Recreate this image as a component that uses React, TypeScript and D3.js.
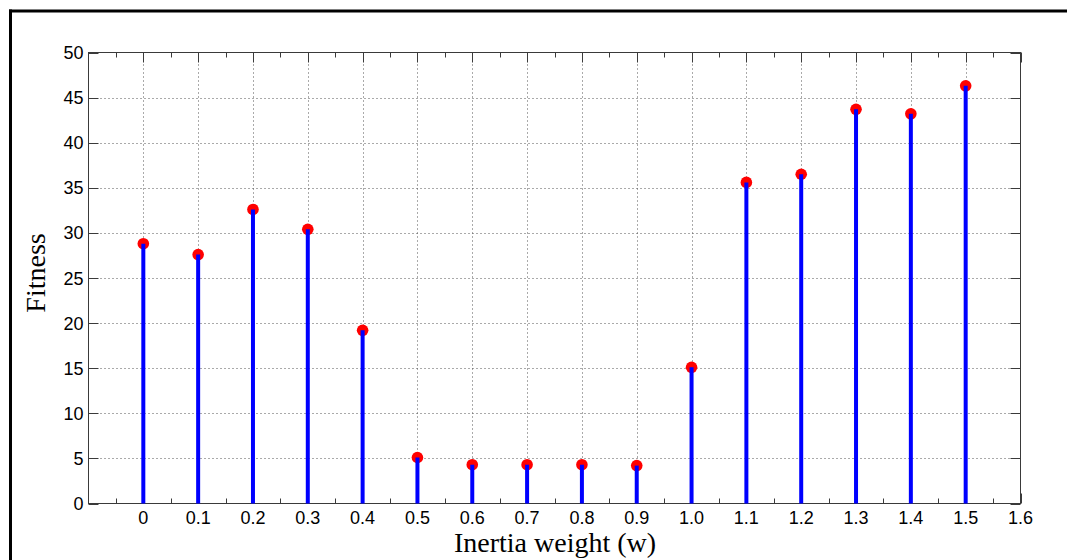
import React from "react";
import * as d3 from "d3";

const weights = [0, 0.1, 0.2, 0.3, 0.4, 0.5, 0.6, 0.7, 0.8, 0.9, 1.0, 1.1, 1.2, 1.3, 1.4, 1.5];
const fitness = [28.8, 27.6, 32.6, 30.4, 19.2, 5.1, 4.3, 4.3, 4.3, 4.2, 15.1, 35.6, 36.5, 43.7, 43.2, 46.3];
const xTickValues = [0, 0.1, 0.2, 0.3, 0.4, 0.5, 0.6, 0.7, 0.8, 0.9, 1.0, 1.1, 1.2, 1.3, 1.4, 1.5, 1.6];
const xTickLabels = ["0", "0.1", "0.2", "0.3", "0.4", "0.5", "0.6", "0.7", "0.8", "0.9", "1.0", "1.1", "1.2", "1.3", "1.4", "1.5", "1.6"];
const xMinorTicks = [-0.05, 0.05, 0.15, 0.25, 0.35, 0.45, 0.55, 0.65, 0.75, 0.85, 0.95, 1.05, 1.15, 1.25, 1.35, 1.45, 1.55];
const yTickValues = [0, 5, 10, 15, 20, 25, 30, 35, 40, 45, 50];

const W = 1067;
const H = 560;
const L = 88.5, R = 1020.5, T = 52.5, B = 503.5;

export default function App() {
  const x = d3.scaleLinear().domain([-0.1, 1.6]).range([L, R]);
  const y = d3.scaleLinear().domain([0, 50]).range([B, T]);
  const axisColor = "#3a3a3a";
  const gridColor = "#555";
  const px = (v: number) => Math.round(x(v)) + 0.5;
  const py = (v: number) => Math.round(y(v)) + 0.5;
  return (
    <div style={{ position: "fixed", left: 0, top: 0, width: W, height: H, overflow: "hidden" }}>
      <svg width={W} height={H} style={{ display: "block", background: "#fff" }}>
        {/* outer frame (top & left) */}
        <line x1={9} y1={11} x2={W + 5} y2={11} stroke="#000" strokeWidth={3} />
        <line x1={10.5} y1={9.5} x2={10.5} y2={H + 5} stroke="#000" strokeWidth={3} />

        {/* grid */}
        {xTickValues.filter((v) => v > -0.05 && v < 1.55).map((v, i) => (
          <line key={"gx" + i} x1={px(v)} x2={px(v)} y1={T} y2={B}
            stroke={gridColor} strokeWidth={1} strokeDasharray="1 3" />
        ))}
        {yTickValues.filter((v) => v > 0 && v < 50).map((v, i) => (
          <line key={"gy" + i} x1={L} x2={R} y1={py(v)} y2={py(v)}
            stroke={gridColor} strokeWidth={1} strokeDasharray="1 3" />
        ))}

        {/* ticks */}
        {xTickValues.map((v, i) => (
          <g key={"xt" + i}>
            <line x1={px(v)} x2={px(v)} y1={B} y2={B - 10} stroke={axisColor} />
            <line x1={px(v)} x2={px(v)} y1={T} y2={T + 10} stroke={axisColor} />
          </g>
        ))}
        {xMinorTicks.map((v, i) => (
          <g key={"xm" + i}>
            <line x1={px(v)} x2={px(v)} y1={B} y2={B - 5} stroke={axisColor} />
            <line x1={px(v)} x2={px(v)} y1={T} y2={T + 5} stroke={axisColor} />
          </g>
        ))}
        {yTickValues.map((v, i) => (
          <g key={"yt" + i}>
            <line x1={L} x2={L + 10} y1={py(v)} y2={py(v)} stroke={axisColor} />
            <line x1={R} x2={R - 10} y1={py(v)} y2={py(v)} stroke={axisColor} />
          </g>
        ))}

        {/* box */}
        <rect x={L} y={T} width={R - L} height={B - T} fill="none" stroke={axisColor} strokeWidth={1} />

        {/* stems */}
        {weights.map((w, i) => (
          <circle key={"m" + i} cx={x(w)} cy={y(fitness[i])} r={5.8} fill="#ff0000" />
        ))}
        {weights.map((w, i) => (
          <line key={"s" + i} x1={x(w)} x2={x(w)} y1={y(0)} y2={y(fitness[i])} stroke="#0000ff" strokeWidth={4} />
        ))}

        {/* tick labels */}
        {xTickValues.map((v, i) => (
          <text key={"xl" + i} x={x(v)} y={B + 20} textAnchor="middle" fontFamily="'Liberation Sans', Arial, sans-serif"
            fontSize={18} fill="#000">{xTickLabels[i]}</text>
        ))}
        {yTickValues.map((v, i) => (
          <text key={"yl" + i} x={L - 5} y={y(v) + 6.5} textAnchor="end" fontFamily="'Liberation Sans', Arial, sans-serif"
            fontSize={18} fill="#000">{v}</text>
        ))}

        {/* axis titles */}
        <text x={555} y={552} textAnchor="middle" fontFamily="'Liberation Serif', 'Times New Roman', serif"
          fontSize={28} fill="#000">Inertia weight (w)</text>
        <text transform={`translate(45, 273) rotate(-90)`} textAnchor="middle"
          fontFamily="'Liberation Serif', 'Times New Roman', serif" fontSize={28} fill="#000">Fitness</text>
      </svg>
    </div>
  );
}
